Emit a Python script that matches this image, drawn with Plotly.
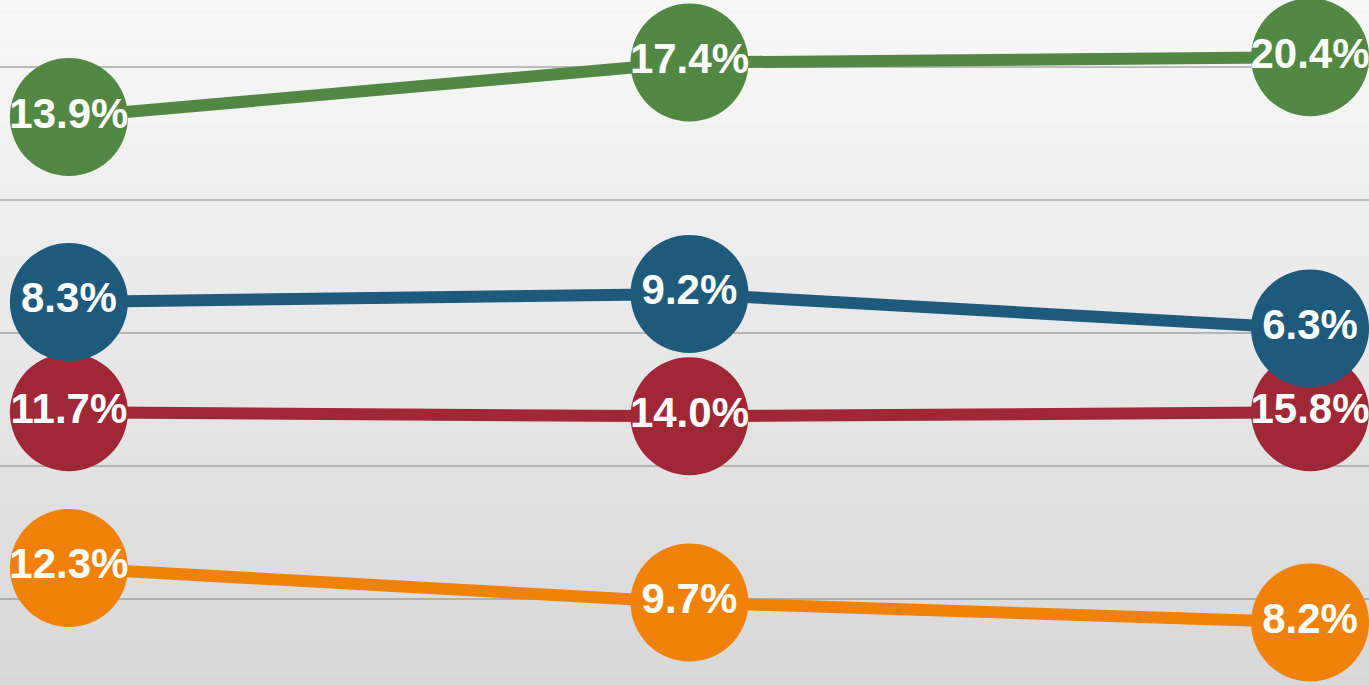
import plotly.graph_objects as go

# Three periods, four stacked shares (percent)
periods = ["P1", "P2", "P3"]
orange_vals = [12.3, 9.7, 8.2]
red_vals = [11.7, 14.0, 15.8]
blue_vals = [8.3, 9.2, 6.3]
green_vals = [13.9, 17.4, 20.4]

series = [
    ("Orange", orange_vals, "#f0820c"),
    ("Red", red_vals, "#a02836"),
    ("Blue", blue_vals, "#1e5a7c"),
    ("Green", green_vals, "#528843"),
]

fig = go.Figure()
x_idx = list(range(len(periods)))
for name, vals, color in series:
    fig.add_trace(go.Scatter(
        x=x_idx, y=vals, name=name,
        stackgroup="one", fill="none",
        mode="lines+markers+text",
        line=dict(color=color, width=12),
        marker=dict(size=118, color=color, line=dict(width=0)),
        text=[f"{v:.1f}%" for v in vals],
        textposition="middle center",
        textfont=dict(family="Liberation Sans, Arial", size=42, color="white", weight="bold"),
        hoverinfo="skip",
        cliponaxis=False,
    ))

# soft vertical gradient behind the plot
shapes = []
n = 60
top = (248, 248, 248)
bot = (216, 216, 216)
for i in range(n):
    t = i / (n - 1)
    c = tuple(round(top[k] + (bot[k] - top[k]) * t) for k in range(3))
    shapes.append(dict(
        type="rect", xref="paper", yref="paper",
        x0=0, x1=1, y0=1 - (i + 1) / n, y1=1 - i / n,
        fillcolor=f"rgb{c}", line=dict(width=0), layer="below",
    ))

fig.update_layout(
    width=1369, height=685,
    margin=dict(l=0, r=0, t=0, b=0),
    showlegend=False,
    paper_bgcolor="#e6e6e6",
    plot_bgcolor="rgba(0,0,0,0)",
    shapes=shapes,
    xaxis=dict(range=[-0.111, 2.095], visible=False, fixedrange=True),
    yaxis=dict(range=[3.5, 55.0], tick0=10, dtick=10, showgrid=True,
               gridcolor="rgba(120,120,120,0.45)", gridwidth=2,
               zeroline=False, showticklabels=False, ticks="", fixedrange=True),
)

fig.write_html("out.html")
